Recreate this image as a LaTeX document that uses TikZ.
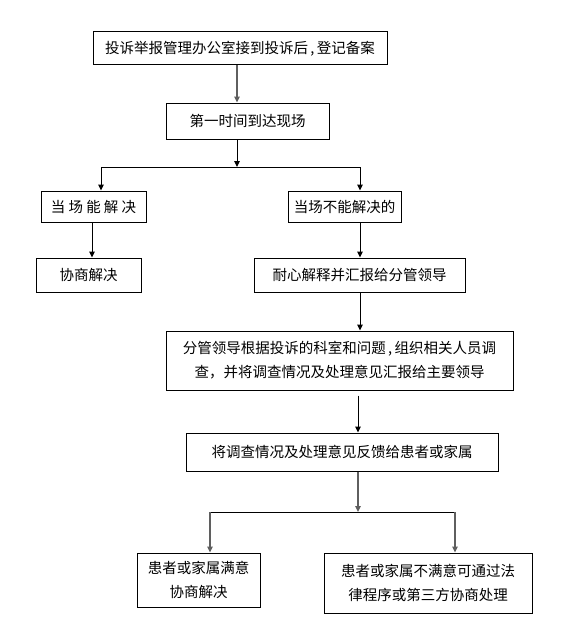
\documentclass[tikz,border=0pt]{standalone}
\usepackage{fontspec}
\usepackage{xcolor}
\usepackage{tikz}
\usetikzlibrary{arrows.meta, calc}
\newfontfamily\cjk{Noto Sans CJK SC}
\definecolor{ash}{RGB}{95,95,95}

\begin{document}
\begin{tikzpicture}[x=1pt, y=-1pt,
  n/.style={draw, line width=1pt, inner sep=0pt, align=center, font=\cjk\fontsize{14.5}{24}\selectfont},
  ln/.style={line width=1pt},
  g/.style={ln, draw=ash, line width=1.4pt},
  >={Triangle[length=6pt, width=5.5pt]}]
\useasboundingbox (0,0) rectangle (568,642);
\node[n, minimum width=294, minimum height=33] (b1) at (240,48.5) {投诉举报管理办公室接到投诉后\,,\,登记备案};
\node[n, minimum width=163, minimum height=36] (b2) at (247.5,121) {第一时间到达现场};
\node[n, minimum width=105, minimum height=31] (l1) at (93.5,206.5) {当 场 能 解 决};
\node[n, minimum width=113, minimum height=31] (r1) at (344.5,206.5) {当场不能解决的};
\node[n, minimum width=105, minimum height=34] (l2) at (88.5,275) {协商解决};
\node[n, minimum width=211, minimum height=34] (r2) at (359.5,275) {耐心解释并汇报给分管领导};
\node[n, minimum width=347, minimum height=59] (b3) at (339.5,360.5) {分管领导根据投诉的科室和问题\,,\,组织相关人员调\\查，并将调查情况及处理意见汇报给主要领导};
\node[n, minimum width=312, minimum height=38] (b4) at (342,452) {将调查情况及处理意见反馈给患者或家属};
\node[n, minimum width=123, minimum height=54] (c1) at (198.5,580) {患者或家属满意\\协商解决};
\node[n, minimum width=208, minimum height=60] (c2) at (428,583) {患者或家属不满意可通过法\\律程序或第三方协商处理};
\coordinate (j1) at (237,167);
\coordinate (jl) at (101,167);
\coordinate (jr) at (360,167);
\coordinate (j2) at (358,512);
\coordinate (jl2) at (210,512);
\coordinate (jr2) at (455,512);
\draw[g, ->] (j1 |- b1.south) -- (j1 |- b2.north);
\draw[ln, ->] (j1 |- b2.south) -- (j1);
\draw[ln] (jl) -- (jr);
\draw[ln, ->] (jl) -- (jl |- l1.north);
\draw[ln, ->] (jr) -- (jr |- r1.north);
\draw[ln, ->] ($(l1.south)+(-1.5,0)$) -- ($(l1.south |- l2.north)+(-1.5,0)$);
\draw[ln, ->] (jr |- r1.south) -- (jr |- r2.north);
\draw[ln, ->] (jr |- r2.south) -- (jr |- b3.north);
\draw[ln, ->] ($(j2 |- b3.south)+(0,5)$) -- (j2 |- b4.north);
\draw[g, ->] (j2 |- b4.south) -- (j2);
\draw[ln] (jl2) -- (jr2);
\draw[g, ->] (jl2) -- (jl2 |- c1.north);
\draw[g, ->] (jr2) -- (jr2 |- c2.north);
\end{tikzpicture}
\end{document}
